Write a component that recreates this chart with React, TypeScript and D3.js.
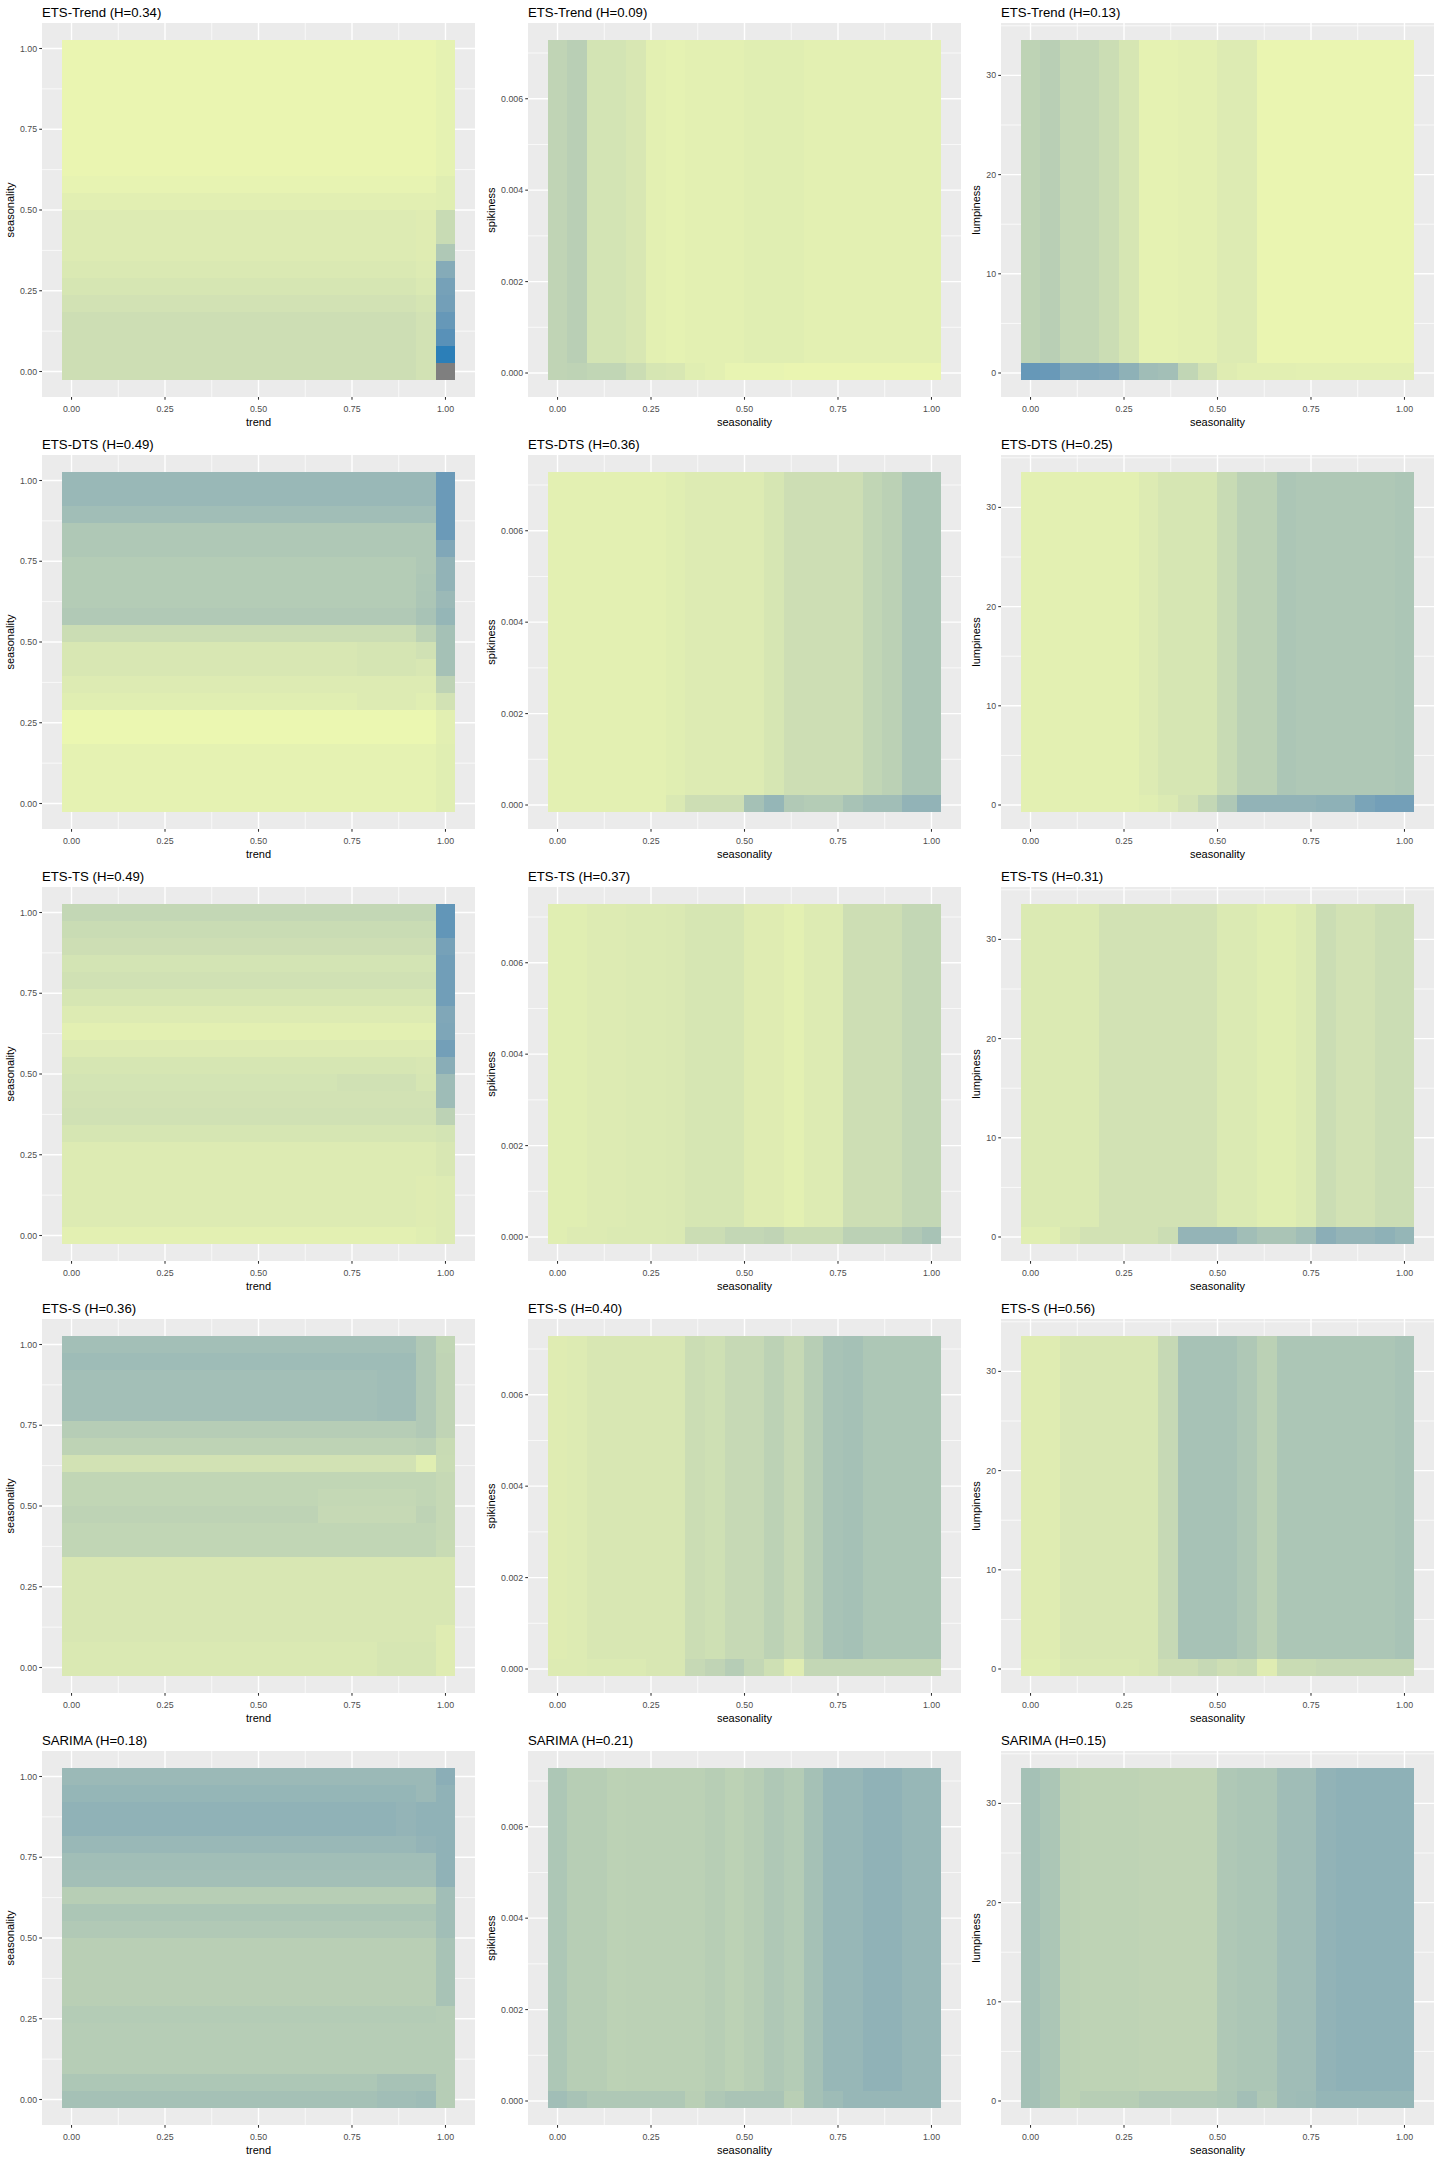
import * as d3 from 'd3';

// grid of the partial dependence (20 points on [0, 1])
const GRID_20 = [0, 0.0526, 0.1053, 0.1579, 0.2105, 0.2632, 0.3158, 0.3684, 0.4211, 0.4737,
    0.5263, 0.5789, 0.6316, 0.6842, 0.7368, 0.7895, 0.8421, 0.8947, 0.9474, 1];

// y bands of the spikiness / lumpiness panels (tile edges)
const SPIKINESS_EDGES = [-0.000153, 0.000212, 0.007285];
const LUMPINESS_EDGES = [-0.706, 0.979, 33.57];

const MODELS = ['ETS-Trend', 'ETS-DTS', 'ETS-TS', 'ETS-S', 'SARIMA'];
const H_TREND_SEAS = [0.34, 0.49, 0.49, 0.36, 0.18];
const H_SEAS_SPIKE = [0.09, 0.36, 0.37, 0.40, 0.21];
const H_SEAS_LUMP = [0.13, 0.25, 0.31, 0.56, 0.15];

// trend x seasonality: value per seasonality row (bottom -> top), last trend column, single cell tweaks [col, row, value]
const ETS_TREND_ROWS = [0.20, 0.20, 0.20, 0.20, 0.17, 0.14, 0.12, 0.10, 0.10, 0.10, 0.07, 0.04, 0.02, 0.02, 0.02, 0.02, 0.02, 0.02, 0.02, 0.02];
const ETS_TREND_LAST = [null, 1.0, 0.84, 0.78, 0.72, 0.70, 0.62, 0.38, 0.23, 0.23, 0.08, 0.08, 0.05, 0.05, 0.05, 0.05, 0.05, 0.05, 0.05, 0.05];
const ETS_TREND_TWEAKS = [[18, 0, 0.17], [18, 1, 0.17], [18, 2, 0.17], [18, 3, 0.17], [18, 4, 0.15], [18, 5, 0.12], [18, 6, 0.10], [18, 7, 0.09], [18, 8, 0.09], [18, 9, 0.09]];

const ETS_DTS_ROWS = [0.05, 0.05, 0.05, 0.05, 0.01, 0.01, 0.08, 0.10, 0.13, 0.13, 0.21, 0.37, 0.35, 0.35, 0.35, 0.38, 0.38, 0.46, 0.51, 0.51];
const ETS_DTS_LAST = [0.08, 0.08, 0.08, 0.08, 0.07, 0.07, 0.17, 0.29, 0.44, 0.44, 0.44, 0.53, 0.50, 0.55, 0.55, 0.65, 0.76, 0.76, 0.76, 0.76];
const ETS_DTS_TWEAKS = [[18, 9, 0.18], [18, 10, 0.30], [18, 11, 0.42], [18, 12, 0.40], [18, 13, 0.39], [18, 14, 0.38],
    [15, 6, 0.10], [16, 6, 0.10], [17, 6, 0.10], [15, 8, 0.15], [16, 8, 0.15], [17, 8, 0.15], [15, 9, 0.15], [16, 9, 0.15], [17, 9, 0.15]];

const ETS_TS_ROWS = [0.06, 0.10, 0.10, 0.10, 0.10, 0.10, 0.14, 0.18, 0.17, 0.16, 0.14, 0.10, 0.06, 0.10, 0.14, 0.18, 0.16, 0.20, 0.22, 0.26];
const ETS_TS_LAST = [0.10, 0.10, 0.10, 0.10, 0.13, 0.13, 0.16, 0.30, 0.48, 0.48, 0.60, 0.72, 0.66, 0.65, 0.73, 0.73, 0.73, 0.70, 0.80, 0.80];
const ETS_TS_TWEAKS = [[18, 0, 0.08], [18, 1, 0.09], [18, 2, 0.09], [18, 3, 0.09], [18, 9, 0.14], [18, 10, 0.13], [14, 9, 0.18], [15, 9, 0.18], [16, 9, 0.18], [17, 9, 0.18]];

const ETS_S_ROWS = [0.12, 0.12, 0.13, 0.13, 0.13, 0.13, 0.13, 0.27, 0.27, 0.29, 0.27, 0.27, 0.17, 0.29, 0.34, 0.45, 0.45, 0.45, 0.48, 0.45];
const ETS_S_LAST = [0.09, 0.09, 0.09, 0.13, 0.13, 0.13, 0.13, 0.23, 0.24, 0.24, 0.24, 0.24, 0.22, 0.23, 0.28, 0.28, 0.28, 0.28, 0.28, 0.27];
const ETS_S_TWEAKS = [[18, 12, 0.08], [18, 13, 0.31], [18, 14, 0.37], [18, 15, 0.37], [18, 16, 0.37], [18, 17, 0.37], [18, 18, 0.37], [18, 19, 0.37],
    [16, 15, 0.47], [17, 15, 0.47], [16, 16, 0.47], [17, 16, 0.47], [16, 17, 0.47], [17, 17, 0.47], [16, 18, 0.48], [17, 18, 0.48],
    [13, 9, 0.24], [14, 9, 0.24], [15, 9, 0.24], [16, 9, 0.24], [17, 9, 0.24], [13, 10, 0.25], [14, 10, 0.25], [15, 10, 0.25], [16, 10, 0.25], [17, 10, 0.25],
    [16, 0, 0.14], [17, 0, 0.14], [18, 0, 0.14], [16, 1, 0.14], [17, 1, 0.14], [18, 1, 0.14]];

const SARIMA_ROWS = [0.44, 0.39, 0.34, 0.34, 0.34, 0.35, 0.32, 0.32, 0.32, 0.32, 0.37, 0.40, 0.33, 0.45, 0.46, 0.51, 0.56, 0.56, 0.53, 0.50];
const SARIMA_LAST = [0.34, 0.34, 0.34, 0.34, 0.34, 0.34, 0.42, 0.42, 0.42, 0.42, 0.46, 0.46, 0.46, 0.56, 0.56, 0.56, 0.56, 0.56, 0.56, 0.59];
const SARIMA_TWEAKS = [[16, 0, 0.46], [17, 0, 0.46], [18, 0, 0.48], [16, 1, 0.43], [17, 1, 0.43], [18, 1, 0.43], [17, 16, 0.54], [17, 17, 0.54], [18, 15, 0.54], [18, 18, 0.50], [18, 19, 0.50]];

// seasonality x spikiness: [bottom band, top band]
const SPIKE_ETS_TREND = [
    [0.28, 0.29, 0.27, 0.27, 0.21, 0.14, 0.13, 0.08, 0.06, 0.03, 0.03, 0.03, 0.02, 0.02, 0.02, 0.02, 0.02, 0.02, 0.02, 0.02],
    [0.28, 0.32, 0.16, 0.16, 0.13, 0.06, 0.05, 0.06, 0.06, 0.06, 0.08, 0.08, 0.08, 0.06, 0.06, 0.06, 0.06, 0.06, 0.06, 0.06],
];
const SPIKE_ETS_DTS = [
    [0.06, 0.06, 0.06, 0.06, 0.06, 0.06, 0.12, 0.20, 0.20, 0.20, 0.44, 0.53, 0.37, 0.35, 0.35, 0.42, 0.46, 0.46, 0.55, 0.55],
    [0.06, 0.06, 0.06, 0.06, 0.06, 0.06, 0.08, 0.10, 0.10, 0.10, 0.10, 0.14, 0.20, 0.20, 0.20, 0.20, 0.27, 0.31, 0.40, 0.40],
];
const SPIKE_ETS_TS = [
    [0.08, 0.10, 0.10, 0.11, 0.11, 0.11, 0.12, 0.21, 0.21, 0.26, 0.26, 0.28, 0.22, 0.22, 0.22, 0.31, 0.31, 0.31, 0.37, 0.42],
    [0.08, 0.08, 0.10, 0.10, 0.11, 0.11, 0.12, 0.14, 0.14, 0.14, 0.09, 0.09, 0.06, 0.10, 0.10, 0.20, 0.20, 0.20, 0.26, 0.26],
];
const SPIKE_ETS_S = [
    [0.10, 0.10, 0.11, 0.11, 0.11, 0.13, 0.13, 0.24, 0.28, 0.34, 0.26, 0.19, 0.09, 0.26, 0.26, 0.26, 0.26, 0.26, 0.26, 0.26],
    [0.09, 0.10, 0.13, 0.13, 0.13, 0.13, 0.13, 0.21, 0.19, 0.24, 0.24, 0.30, 0.24, 0.33, 0.42, 0.44, 0.39, 0.39, 0.39, 0.39],
];
const SPIKE_SARIMA = [
    [0.46, 0.42, 0.38, 0.38, 0.38, 0.38, 0.38, 0.32, 0.38, 0.41, 0.41, 0.41, 0.32, 0.44, 0.48, 0.52, 0.52, 0.52, 0.52, 0.52],
    [0.39, 0.33, 0.33, 0.30, 0.31, 0.31, 0.31, 0.31, 0.33, 0.30, 0.33, 0.38, 0.35, 0.44, 0.52, 0.52, 0.56, 0.56, 0.52, 0.52],
];

// seasonality x lumpiness: [bottom band, top band]
const LUMP_ETS_TREND = [
    [0.78, 0.77, 0.66, 0.67, 0.65, 0.57, 0.47, 0.45, 0.27, 0.17, 0.09, 0.07, 0.07, 0.07, 0.06, 0.06, 0.06, 0.06, 0.06, 0.06],
    [0.29, 0.32, 0.26, 0.26, 0.21, 0.14, 0.05, 0.05, 0.06, 0.06, 0.10, 0.10, 0.02, 0.02, 0.02, 0.02, 0.02, 0.02, 0.02, 0.02],
];
const LUMP_ETS_DTS = [
    [0.06, 0.06, 0.06, 0.06, 0.06, 0.06, 0.08, 0.11, 0.17, 0.26, 0.38, 0.55, 0.55, 0.55, 0.55, 0.57, 0.57, 0.68, 0.72, 0.72],
    [0.06, 0.06, 0.06, 0.06, 0.06, 0.06, 0.10, 0.14, 0.14, 0.14, 0.23, 0.31, 0.31, 0.40, 0.38, 0.38, 0.38, 0.38, 0.38, 0.40],
];
const LUMP_ETS_TS = [
    [0.08, 0.08, 0.13, 0.17, 0.17, 0.17, 0.17, 0.21, 0.54, 0.54, 0.54, 0.46, 0.41, 0.41, 0.46, 0.59, 0.54, 0.54, 0.57, 0.53],
    [0.11, 0.11, 0.11, 0.11, 0.17, 0.17, 0.17, 0.17, 0.17, 0.17, 0.11, 0.11, 0.08, 0.08, 0.11, 0.21, 0.17, 0.17, 0.21, 0.21],
];
const LUMP_ETS_S = [
    [0.08, 0.08, 0.12, 0.12, 0.12, 0.12, 0.13, 0.20, 0.20, 0.24, 0.20, 0.22, 0.09, 0.22, 0.22, 0.24, 0.24, 0.24, 0.24, 0.24],
    [0.09, 0.09, 0.13, 0.13, 0.13, 0.13, 0.13, 0.24, 0.43, 0.43, 0.43, 0.38, 0.31, 0.40, 0.40, 0.40, 0.40, 0.40, 0.40, 0.42],
];
const LUMP_SARIMA = [
    [0.44, 0.40, 0.30, 0.33, 0.33, 0.33, 0.37, 0.37, 0.37, 0.37, 0.39, 0.45, 0.38, 0.47, 0.48, 0.53, 0.53, 0.53, 0.53, 0.53],
    [0.44, 0.40, 0.30, 0.29, 0.29, 0.29, 0.28, 0.28, 0.28, 0.28, 0.38, 0.40, 0.40, 0.47, 0.47, 0.55, 0.57, 0.57, 0.57, 0.57],
];

const X_BREAKS = [0, 0.25, 0.5, 0.75, 1];
const SEAS_BREAKS = [0, 0.25, 0.5, 0.75, 1];
const SPIKE_BREAKS = [0, 0.002, 0.004, 0.006];
const LUMP_BREAKS = [0, 10, 20, 30];

const LOW = '#EDF8B1';
const HIGH = '#2C7FB8';
const NA_FILL = '#7F7F7F';
const FONT = '"Liberation Sans", Arial, Helvetica, sans-serif';

const fill = d3.scaleLinear<string>().domain([0, 1]).range([LOW, HIGH]).interpolate(d3.interpolateLab);

const COL_W = 480;
const ROW_H = 432;
const PANEL_W = 433;
const PANEL_TOP = 23;
const PANEL_BOTTOM = 397;
const GRAY_LEFT = [42, 48, 41];
const YTITLE_X = [14, 14.5, 20];

function gridEdges(centers: number[]) {
    const w = (centers[centers.length - 1] - centers[0]) / (centers.length - 1);
    return [...centers.map(c => c - w / 2), centers[centers.length - 1] + w / 2];
}

function expand(edges: number[]): [number, number] {
    const lo = edges[0], hi = edges[edges.length - 1];
    const pad = (hi - lo) * 0.05;
    return [lo - pad, hi + pad];
}

function minorBreaks(major: number[], domain: [number, number]) {
    const step = major[1] - major[0];
    const out: number[] = [];
    for (let i = -1; i < major.length; i++) {
        const v = major[0] + step * (i + 0.5);
        if (v >= domain[0] && v <= domain[1]) out.push(v);
    }
    return out;
}

function trendSeasCells(rows: number[], last: (number | null)[], tweaks: number[][]) {
    const cells = rows.map((v, r) => GRID_20.map((_, c) => (c === 19 ? last[r] : v)));
    tweaks.forEach(([c, r, v]) => { cells[r][c] = v; });
    return cells;
}

interface PanelProps {
    col: number;
    row: number;
    title: string;
    xLabel: string;
    yLabel: string;
    yEdges: number[];
    yBreaks: number[];
    yFmt: (v: number) => string;
    cells: (number | null)[][];
}

function Panel({ col, row, title, xLabel, yLabel, yEdges, yBreaks, yFmt, cells }: PanelProps) {
    const ox = col * COL_W;
    const oy = row * ROW_H;
    const left = ox + GRAY_LEFT[col];
    const right = left + PANEL_W;
    const top = oy + PANEL_TOP;
    const bottom = oy + PANEL_BOTTOM;

    const xEdges = gridEdges(GRID_20);
    const xDom = expand(xEdges);
    const yDom = expand(yEdges);
    const x = d3.scaleLinear().domain(xDom).range([left, right]);
    const y = d3.scaleLinear().domain(yDom).range([bottom, top]);

    const xMinor = minorBreaks(X_BREAKS, xDom);
    const yMinor = minorBreaks(yBreaks, yDom);
    const fmt2 = d3.format('.2f');

    return (
        <g>
            <text x={left} y={oy + 16.5} fontSize={13.2} fill="#000">{title}</text>
            <rect x={left} y={top} width={PANEL_W} height={bottom - top} fill="#EBEBEB" />
            {yMinor.map(v => <line key={'ym' + v} x1={left} x2={right} y1={y(v)} y2={y(v)} stroke="#fff" strokeWidth={0.7} />)}
            {xMinor.map(v => <line key={'xm' + v} y1={top} y2={bottom} x1={x(v)} x2={x(v)} stroke="#fff" strokeWidth={0.7} />)}
            {yBreaks.map(v => <line key={'yM' + v} x1={left} x2={right} y1={y(v)} y2={y(v)} stroke="#fff" strokeWidth={1.4} />)}
            {X_BREAKS.map(v => <line key={'xM' + v} y1={top} y2={bottom} x1={x(v)} x2={x(v)} stroke="#fff" strokeWidth={1.4} />)}
            <g shapeRendering="crispEdges">
                {cells.map((rowVals, r) => rowVals.map((v, c) => (
                    <rect key={r + '-' + c}
                        x={x(xEdges[c])} width={x(xEdges[c + 1]) - x(xEdges[c])}
                        y={y(yEdges[r + 1])} height={y(yEdges[r]) - y(yEdges[r + 1])}
                        fill={v === null ? NA_FILL : fill(v)} />
                )))}
            </g>
            {/* axes */}
            {yBreaks.map(v => (
                <g key={'yt' + v}>
                    <line x1={left - 2.75} x2={left} y1={y(v)} y2={y(v)} stroke="#333" strokeWidth={1.07} />
                    <text x={left - 4.9} y={y(v)} dy="0.35em" textAnchor="end" fontSize={8.8} fill="#4D4D4D">{yFmt(v)}</text>
                </g>
            ))}
            {X_BREAKS.map(v => (
                <g key={'xt' + v}>
                    <line y1={bottom} y2={bottom + 2.75} x1={x(v)} x2={x(v)} stroke="#333" strokeWidth={1.07} />
                    <text x={x(v)} y={bottom + 14.6} textAnchor="middle" fontSize={8.8} fill="#4D4D4D">{fmt2(v)}</text>
                </g>
            ))}
            <text x={(left + right) / 2} y={oy + 425.5} textAnchor="middle" fontSize={11} fill="#000">{xLabel}</text>
            <text transform={`translate(${ox + YTITLE_X[col]},${(top + bottom) / 2}) rotate(-90)`} textAnchor="middle" fontSize={11} fill="#000">{yLabel}</text>
        </g>
    );
}

export default function App() {
    const trendSeas = [
        trendSeasCells(ETS_TREND_ROWS, ETS_TREND_LAST, ETS_TREND_TWEAKS),
        trendSeasCells(ETS_DTS_ROWS, ETS_DTS_LAST, ETS_DTS_TWEAKS),
        trendSeasCells(ETS_TS_ROWS, ETS_TS_LAST, ETS_TS_TWEAKS),
        trendSeasCells(ETS_S_ROWS, ETS_S_LAST, ETS_S_TWEAKS),
        trendSeasCells(SARIMA_ROWS, SARIMA_LAST, SARIMA_TWEAKS),
    ];
    const spike = [SPIKE_ETS_TREND, SPIKE_ETS_DTS, SPIKE_ETS_TS, SPIKE_ETS_S, SPIKE_SARIMA];
    const lump = [LUMP_ETS_TREND, LUMP_ETS_DTS, LUMP_ETS_TS, LUMP_ETS_S, LUMP_SARIMA];
    const gridY = gridEdges(GRID_20);

    return (
        <svg width={1440} height={2160} style={{ position: 'absolute', left: 0, top: 0, background: '#fff' }}
            fontFamily={FONT}>
            <rect width={1440} height={2160} fill="#fff" />
            {MODELS.map((m, i) => (
                <g key={m}>
                    <Panel col={0} row={i} title={`${m} (H=${H_TREND_SEAS[i].toFixed(2)})`} xLabel="trend" yLabel="seasonality"
                        yEdges={gridY} yBreaks={SEAS_BREAKS} yFmt={d3.format('.2f')} cells={trendSeas[i]} />
                    <Panel col={1} row={i} title={`${m} (H=${H_SEAS_SPIKE[i].toFixed(2)})`} xLabel="seasonality" yLabel="spikiness"
                        yEdges={SPIKINESS_EDGES} yBreaks={SPIKE_BREAKS} yFmt={d3.format('.3f')} cells={spike[i]} />
                    <Panel col={2} row={i} title={`${m} (H=${H_SEAS_LUMP[i].toFixed(2)})`} xLabel="seasonality" yLabel="lumpiness"
                        yEdges={LUMPINESS_EDGES} yBreaks={LUMP_BREAKS} yFmt={d3.format('d')} cells={lump[i]} />
                </g>
            ))}
        </svg>
    );
}
